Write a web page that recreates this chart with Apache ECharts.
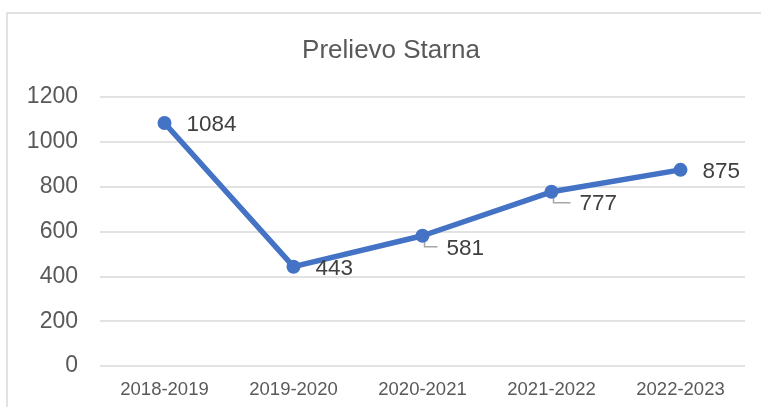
<!DOCTYPE html>
<html>
<head>
<meta charset="utf-8">
<script src="https://cdn.jsdelivr.net/npm/echarts@6/dist/echarts.min.js"></script>
<style>
  html, body { margin: 0; padding: 0; background: #fff; }
  #chart { width: 761px; height: 407px; }
</style>
</head>
<body>
<div id="chart"></div>
<script>
const chartTitle = 'Prelievo Starna';
const seasons = ['2018-2019', '2019-2020', '2020-2021', '2021-2022', '2022-2023'];
const harvest = [1084, 443, 581, 777, 875];
const yTicks = [0, 200, 400, 600, 800, 1000, 1200];
// points whose value label is pulled below-right and tied back with a leader line
const leaderPoints = [2, 3];

const chart = echarts.init(document.getElementById('chart'));

const labelShift = {
  2: { dx: 3, dy: 12, run: 15 },
  3: { dx: 7, dy: 11, run: 19 }
};

const leaderData = leaderPoints.map(i => [i, harvest[i]]);

chart.setOption({
  animation: false,
  backgroundColor: '#ffffff',
  graphic: [{
    type: 'rect',
    shape: { x: 7, y: 13, width: 800, height: 450 },
    style: { fill: 'none', stroke: '#d9d9d9', lineWidth: 1.5 },
    silent: true,
    z: 0
  }],
  title: {
    text: chartTitle,
    left: 386,
    textAlign: 'center',
    top: 33,
    textStyle: { fontFamily: 'Liberation Sans', fontSize: 26, fontWeight: 'normal', color: '#595959' }
  },
  grid: { left: 100, right: 16, top: 97, bottom: 41 },
  xAxis: {
    type: 'category',
    data: seasons,
    boundaryGap: true,
    axisLine: { show: false },
    axisTick: { show: false },
    axisLabel: { fontFamily: 'Liberation Sans', fontSize: 18.5, color: '#595959', margin: 14 }
  },
  yAxis: {
    type: 'value',
    min: yTicks[0],
    max: yTicks[yTicks.length - 1],
    interval: 200,
    axisLine: { show: false },
    axisTick: { show: false },
    axisLabel: {
      fontFamily: 'Liberation Sans', fontSize: 23, color: '#595959', margin: 22,
      formatter: v => String(v)
    },
    splitLine: { lineStyle: { color: '#d9d9d9', width: 1.5 } }
  },
  series: [
    {
      // bent leader lines under the shifted labels
      type: 'custom',
      data: leaderData,
      silent: true,
      z: 1,
      renderItem: function (params, api) {
        const idx = api.value(0);
        const p = api.coord([idx, api.value(1)]);
        const s = labelShift[idx];
        const x0 = p[0] + 2;
        return {
          type: 'polyline',
          shape: { points: [[x0, p[1] + 5], [x0, p[1] + 11], [p[0] + s.run, p[1] + 11]] },
          style: { stroke: '#a6a6a6', lineWidth: 1.5, fill: 'none' }
        };
      }
    },
    {
      type: 'line',
      data: harvest,
      z: 2,
      symbol: 'circle',
      symbolSize: 14,
      lineStyle: { color: '#4472C4', width: 5.5 },
      itemStyle: { color: '#4472C4' },
      label: {
        show: true,
        position: 'right',
        distance: 14,
        fontFamily: 'Liberation Sans',
        fontSize: 22.5,
        color: '#404040'
      },
      labelLayout: function (params) {
        const s = labelShift[params.dataIndex];
        return s ? { dx: s.dx, dy: s.dy + 1 } : { dx: 1, dy: 2 };
      }
    }
  ]
});
</script>
</body>
</html>
